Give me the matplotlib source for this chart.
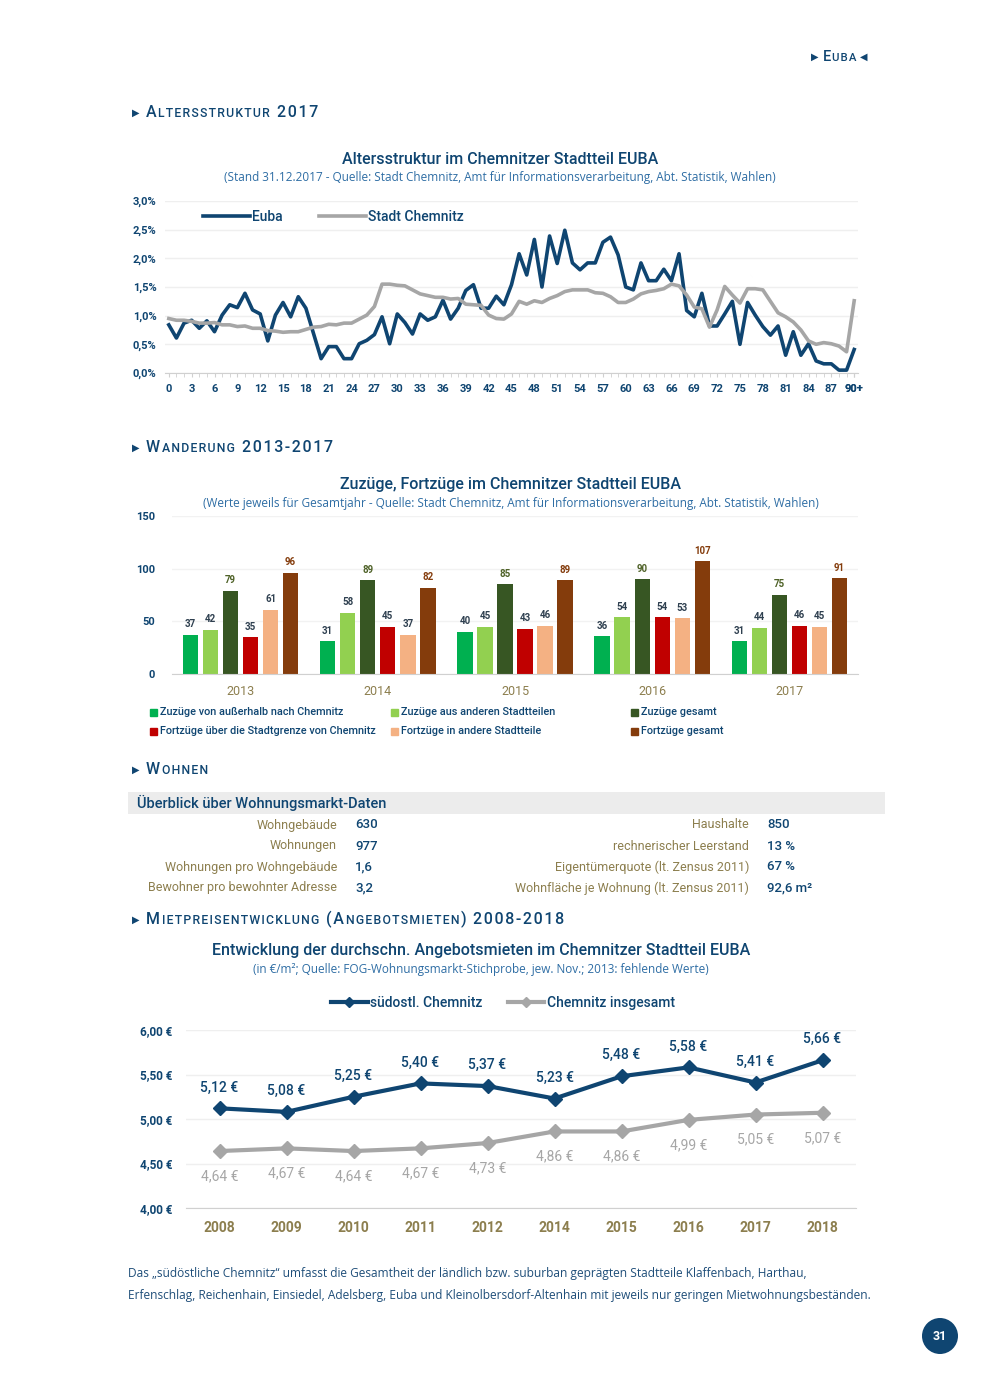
import matplotlib
matplotlib.use("Agg")
import matplotlib.pyplot as plt
from matplotlib.patches import Rectangle, Circle

plt.rcParams['font.family'] = ['Roboto', 'DejaVu Sans']

W, H = 990, 1389
BLUE = '#0f4571'
SUB = '#2e6da4'
GRAY = '#a6a6a6'
OLIVE = '#8c7e4e'

# ---- Altersstruktur 2017 (Anteil in %)
ages = list(range(91))
age_labels = [str(a) if a < 90 else '90+' for a in ages]
euba = [0.84, 0.61, 0.87, 0.92, 0.78, 0.91, 0.72, 1.01, 1.19, 1.14,
        1.39, 1.10, 1.03, 0.56, 1.01, 1.23, 0.98, 1.33, 1.13, 0.69,
        0.25, 0.46, 0.46, 0.25, 0.25, 0.51, 0.57, 0.67, 0.98, 0.51,
        1.03, 0.88, 0.68, 1.03, 0.92, 0.98, 1.27, 0.94, 1.13, 1.44,
        1.54, 1.13, 1.13, 1.34, 1.19, 1.54, 2.08, 1.71, 2.33, 1.50,
        2.39, 1.91, 2.49, 1.92, 1.80, 1.92, 1.92, 2.28, 2.37, 2.06,
        1.50, 1.45, 1.92, 1.61, 1.61, 1.81, 1.61, 2.08, 1.09, 0.98,
        1.39, 0.82, 0.82, 1.03, 1.25, 0.50, 1.23, 1.01, 0.81, 0.66,
        0.82, 0.31, 0.72, 0.31, 0.51, 0.21, 0.16, 0.16, 0.05, 0.05,
        0.41]
chemnitz = [0.95, 0.92, 0.92, 0.90, 0.87, 0.87, 0.88, 0.84, 0.84, 0.81,
            0.82, 0.78, 0.78, 0.74, 0.73, 0.71, 0.72, 0.72, 0.76, 0.80,
            0.81, 0.85, 0.84, 0.87, 0.87, 0.94, 1.01, 1.16, 1.55, 1.55,
            1.53, 1.52, 1.45, 1.38, 1.35, 1.32, 1.32, 1.29, 1.30, 1.20,
            1.19, 1.18, 1.01, 0.95, 0.94, 1.03, 1.25, 1.20, 1.26, 1.23,
            1.30, 1.35, 1.42, 1.45, 1.45, 1.45, 1.40, 1.39, 1.33, 1.23,
            1.23, 1.29, 1.38, 1.42, 1.44, 1.47, 1.55, 1.52, 1.36, 1.15,
            1.12, 0.80, 1.10, 1.51, 1.36, 1.22, 1.47, 1.47, 1.45, 1.25,
            1.05, 0.98, 0.89, 0.75, 0.56, 0.50, 0.53, 0.51, 0.47, 0.37,
            1.26]

# ---- Wanderung 2013-2017
mig_years = ['2013', '2014', '2015', '2016', '2017']
zuz_aussen = [37, 31, 40, 36, 31]
zuz_stadtteile = [42, 58, 45, 54, 44]
zuz_gesamt = [79, 89, 85, 90, 75]
fort_grenze = [35, 45, 43, 54, 46]
fort_stadtteile = [61, 37, 46, 53, 45]
fort_gesamt = [96, 82, 89, 107, 91]
mig_names = ['Zuzüge von außerhalb nach Chemnitz', 'Zuzüge aus anderen Stadtteilen',
             'Zuzüge gesamt', 'Fortzüge über die Stadtgrenze von Chemnitz',
             'Fortzüge in andere Stadtteile', 'Fortzüge gesamt']
mig_colors = ['#00b050', '#92d050', '#375623', '#c00000', '#f4b183', '#843c0c']
mig_label_colors = ['#2f4050', '#2f4050', '#4f6228', '#2f4050', '#2f4050', '#843c0c']

# ---- Wohnungsmarkt
left_keys = ['Wohngebäude', 'Wohnungen', 'Wohnungen pro Wohngebäude', 'Bewohner pro bewohnter Adresse']
left_vals = ['630', '977', '1,6', '3,2']
right_keys = ['Haushalte', 'rechnerischer Leerstand', 'Eigentümerquote (lt. Zensus 2011)',
              'Wohnfläche je Wohnung (lt. Zensus 2011)']
right_vals = ['850', '13 %', '67 %', '92,6 m²']

# ---- Mietpreise
rent_years = ['2008', '2009', '2010', '2011', '2012', '2014', '2015', '2016', '2017', '2018']
rent_so = [5.12, 5.08, 5.25, 5.40, 5.37, 5.23, 5.48, 5.58, 5.41, 5.66]
rent_c = [4.64, 4.67, 4.64, 4.67, 4.73, 4.86, 4.86, 4.99, 5.05, 5.07]

fig = plt.figure(figsize=(W / 100, H / 100), dpi=100)
bg = fig.add_axes([0, 0, 1, 1])
bg.set_xlim(0, W)
bg.set_ylim(H, 0)
bg.axis('off')
renderer = fig.canvas.get_renderer()
HAIR = '\u200a'


def px_axes(l, t, r, b):
    a = fig.add_axes([l / W, 1 - b / H, (r - l) / W, (b - t) / H])
    a.patch.set_alpha(0)
    return a


def caps(x, y, s, big=11.5, small=8.8, track=1.8, color=BLUE, weight=500):
    # small caps: first letter of a word and digits large, the rest small
    runs = []
    newword = True
    for ch in s:
        if ch == ' ':
            runs.append((None, ' '))
            newword = True
            continue
        size = big if (newword or not ch.isalpha()) else small
        if runs and runs[-1][0] == size:
            runs[-1] = (size, runs[-1][1] + ch)
        else:
            runs.append((size, ch))
        newword = not ch.isalpha()
    for size, txt in runs:
        if size is None:
            x += big * 0.45
            continue
        t = bg.text(x, y, HAIR.join(txt), fontsize=size, color=color, va='baseline',
                    ha='left', weight=weight)
        x += t.get_window_extent(renderer).width + track
    return x


def section(y, s):
    bg.text(132, y - 1, '▶', fontsize=7, color=BLUE, va='baseline', family='DejaVu Sans')
    caps(146, y, s)


# header
bg.text(811, 60, '▶', fontsize=7, color=BLUE, va='baseline', family='DejaVu Sans')
xe = caps(823, 61, 'EUBA', big=10.5, small=8.2, track=1.0)
bg.text(xe + 2, 60, '◀', fontsize=7, color=BLUE, va='baseline', family='DejaVu Sans')

# ---------------- Altersstruktur
section(117, 'ALTERSSTRUKTUR 2017')
bg.text(500, 160, 'Altersstruktur im Chemnitzer Stadtteil EUBA', fontsize=11.5,
        color=BLUE, ha='center', va='center', weight=500)
bg.text(500, 178, '(Stand 31.12.2017 - Quelle: Stadt Chemnitz, Amt für Informationsverarbeitung, '
        'Abt. Statistik, Wahlen)', fontsize=8.5, color=SUB, ha='center', va='center',
        family=['Open Sans', 'DejaVu Sans'])

ax1 = px_axes(165, 201, 858, 373)
ax1.plot(ages, euba, color=BLUE, lw=2.6, label='Euba')
ax1.plot(ages, chemnitz, color=GRAY, lw=2.6, label='Stadt Chemnitz')
ax1.set_xlim(-0.5, 90.5)
ax1.set_ylim(0, 3.0)
yt = [0, 0.5, 1.0, 1.5, 2.0, 2.5, 3.0]
ax1.set_yticks(yt)
ax1.set_yticklabels([f'{v:.1f}%'.replace('.', ',') for v in yt])
ax1.set_xticks(ages[::3] + [90])
ax1.set_xticklabels(age_labels[::3] + ['90+'])
ax1.set_xticks(ages, minor=True)
ax1.grid(axis='y', color='#efefef', lw=1)
ax1.set_axisbelow(True)
for s in ['top', 'right', 'left']:
    ax1.spines[s].set_visible(False)
ax1.spines['bottom'].set_color('#d0d0d0')
ax1.tick_params(axis='y', length=0, pad=6, labelsize=8, labelcolor=BLUE)
ax1.tick_params(axis='x', which='both', length=3, color='#d0d0d0', pad=5, labelsize=8,
                labelcolor=BLUE)
for lab in ax1.get_xticklabels() + ax1.get_yticklabels():
    lab.set_fontweight('bold')
ax1.legend(loc='center left', bbox_to_anchor=(196 / W, 1 - 217 / H), bbox_transform=fig.transFigure,
           ncol=2, frameon=False, prop={'size': 10, 'weight': 500}, handlelength=3.4,
           handletextpad=0.15, columnspacing=2.6, borderpad=0, labelcolor=BLUE)

# ---------------- Wanderung
section(452, 'WANDERUNG 2013-2017')
bg.text(511, 485, 'Zuzüge, Fortzüge im Chemnitzer Stadtteil EUBA', fontsize=11.5,
        color=BLUE, ha='center', va='center', weight=500)
bg.text(511, 503, '(Werte jeweils für Gesamtjahr - Quelle: Stadt Chemnitz, Amt für '
        'Informationsverarbeitung, Abt. Statistik, Wahlen)', fontsize=8.5, color=SUB,
        ha='center', va='center', family=['Open Sans', 'DejaVu Sans'])

ax2 = px_axes(172, 516, 858, 674)
series = [zuz_aussen, zuz_stadtteile, zuz_gesamt, fort_grenze, fort_stadtteile, fort_gesamt]
step, bw = 0.146, 0.112
for i, vals in enumerate(series):
    xs = [g + (i - 2.5) * step for g in range(len(mig_years))]
    bars = ax2.bar(xs, vals, width=bw, color=mig_colors[i])
    ax2.bar_label(bars, labels=[str(v) for v in vals], padding=4, fontsize=7,
                  color=mig_label_colors[i], fontweight='bold')
ax2.set_xlim(-0.5, 4.5)
ax2.set_ylim(0, 150)
ax2.set_yticks([0, 50, 100, 150])
ax2.set_xticks(range(len(mig_years)))
ax2.set_xticklabels(mig_years)
ax2.grid(axis='y', color='#f2f2f2', lw=1)
ax2.set_axisbelow(True)
for s in ['top', 'right', 'left']:
    ax2.spines[s].set_visible(False)
ax2.spines['bottom'].set_color('#d0d0d0')
ax2.tick_params(axis='y', length=0, pad=12, labelsize=8, labelcolor=BLUE)
ax2.tick_params(axis='x', length=0, pad=8, labelsize=9, labelcolor=OLIVE)
for lab in ax2.get_yticklabels():
    lab.set_fontweight('bold')

leg_x = [150, 391, 631]
for i, name in enumerate(mig_names):
    lx = leg_x[i % 3]
    ly = 712 if i < 3 else 731
    bg.add_patch(Rectangle((lx, ly - 3.5), 7, 7, color=mig_colors[i]))
    bg.text(lx + 10, ly, name, fontsize=7.8, color=BLUE, va='center', weight=500)

# ---------------- Wohnen
section(774, 'WOHNEN')
bg.add_patch(Rectangle((128, 792), 757, 22, color='#ececec', lw=0))
bg.text(137, 803, 'Überblick über Wohnungsmarkt-Daten', fontsize=10.5, color=BLUE,
        va='center', weight=500)
for k in range(4):
    yy = 825 + 21 * k
    bg.text(337, yy, left_keys[k], fontsize=9, color=OLIVE, ha='right', va='center')
    bg.text(355, yy, left_vals[k], fontsize=9.5, color=BLUE, ha='left', va='center', weight=500)
    bg.text(749, yy, right_keys[k], fontsize=9, color=OLIVE, ha='right', va='center')
    bg.text(767, yy, right_vals[k], fontsize=9.5, color=BLUE, ha='left', va='center', weight=500)

# ---------------- Mietpreise
section(924, 'MIETPREISENTWICKLUNG (ANGEBOTSMIETEN) 2008-2018')
bg.text(481, 951, 'Entwicklung der durchschn. Angebotsmieten im Chemnitzer Stadtteil EUBA',
        fontsize=11.5, color=BLUE, ha='center', va='center', weight=500)
bg.text(481, 969, '(in €/m²; Quelle: FOG-Wohnungsmarkt-Stichprobe, jew. Nov.; 2013: fehlende Werte)',
        fontsize=8.5, color=SUB, ha='center', va='center', family=['Open Sans', 'DejaVu Sans'])

ax3 = px_axes(186, 1030, 856, 1208)
xr = range(len(rent_years))
ax3.plot(xr, rent_so, color=BLUE, lw=3, marker='D', ms=7, label='südostl. Chemnitz')
ax3.plot(xr, rent_c, color=GRAY, lw=3, marker='D', ms=7, label='Chemnitz insgesamt')
for i in xr:
    ax3.annotate(f'{rent_so[i]:.2f} €'.replace('.', ','), (i, rent_so[i]), xytext=(0, 10),
                 textcoords='offset points', ha='center', va='bottom', fontsize=10,
                 color=BLUE, weight=500)
    ax3.annotate(f'{rent_c[i]:.2f} €'.replace('.', ','), (i, rent_c[i]), xytext=(0, -13),
                 textcoords='offset points', ha='center', va='top', fontsize=10,
                 color=GRAY)
ax3.set_xlim(-0.5, 9.5)
ax3.set_ylim(4.0, 6.0)
ryt = [4.0, 4.5, 5.0, 5.5, 6.0]
ax3.set_yticks(ryt)
ax3.set_yticklabels([f'{v:.2f} €'.replace('.', ',') for v in ryt])
ax3.set_xticks(list(xr))
ax3.set_xticklabels(rent_years)
ax3.grid(axis='y', color='#efefef', lw=1)
ax3.set_axisbelow(True)
for s in ['top', 'right', 'left']:
    ax3.spines[s].set_visible(False)
ax3.spines['bottom'].set_color('#d0d0d0')
ax3.tick_params(axis='y', length=0, pad=10, labelsize=8.5, labelcolor=BLUE)
ax3.tick_params(axis='x', length=0, pad=9, labelsize=10, labelcolor=OLIVE)
for lab in ax3.get_xticklabels() + ax3.get_yticklabels():
    lab.set_fontweight('bold')
ax3.legend(loc='center', bbox_to_anchor=(503 / W, 1 - 1003 / H), bbox_transform=fig.transFigure,
           ncol=2, frameon=False, prop={'size': 10, 'weight': 500}, handlelength=2.6,
           handletextpad=0.2, columnspacing=1.8, borderpad=0, labelcolor=BLUE, markerscale=0.8)

# ---------------- Fußnote und Seitenzahl
bg.text(128, 1274, 'Das „südöstliche Chemnitz“ umfasst die Gesamtheit der ländlich bzw. suburban '
        'geprägten Stadtteile Klaffenbach, Harthau,', fontsize=8.6, color='#1f4e79', va='center',
        family=['Open Sans', 'DejaVu Sans'])
bg.text(128, 1295, 'Erfenschlag, Reichenhain, Einsiedel, Adelsberg, Euba und Kleinolbersdorf-Altenhain '
        'mit jeweils nur geringen Mietwohnungsbeständen.', fontsize=8.6, color='#1f4e79',
        va='center', family=['Open Sans', 'DejaVu Sans'])
bg.add_patch(Circle((940, 1336), 18, color=BLUE, lw=0))
bg.text(940, 1337, '31', fontsize=9, color='white', ha='center', va='center', weight='bold')

fig.savefig('out.png', dpi=100)
